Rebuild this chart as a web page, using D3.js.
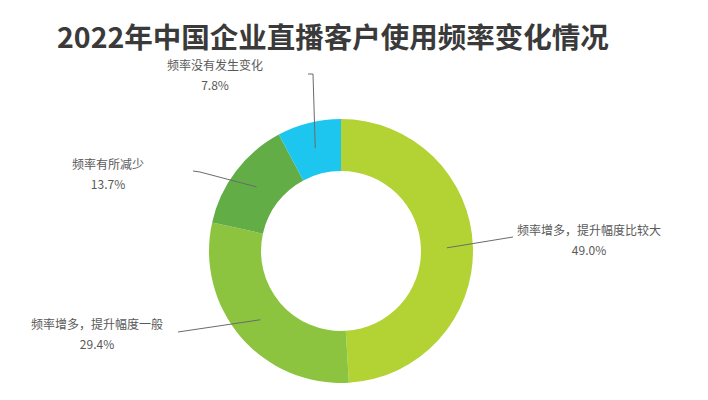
<!DOCTYPE html>
<html><head><meta charset="utf-8">
<script src="https://cdn.jsdelivr.net/npm/d3@7"></script>
<style>html,body{margin:0;padding:0;background:#fff;}svg{display:block;font-family:"Noto Sans CJK SC","Microsoft YaHei",sans-serif;}</style>
</head><body>
<svg id="c" width="708" height="400"></svg>
<script>
const title = "2022年中国企业直播客户使用频率变化情况";
const categories = ["频率增多，提升幅度比较大", "频率增多，提升幅度一般", "频率有所减少", "频率没有发生变化"];
const values = [49.0, 29.4, 13.7, 7.8];
const colors = ["#b3d335", "#8cc43f", "#63ad46", "#1dc6ee"];

// layout: leader end point (relative to centre) and label anchor
const labelLayout = [
  {end: [172, -14], lx: 589, ly: 229, elbow: null},
  {end: [-163, 81], lx: 97, ly: 323, elbow: null},
  {end: [-148, -80], lx: 108, ly: 163, elbow: [-141, -79]},
  {end: [-33, -177], lx: 215, ly: 64, elbow: [-28, -177]}
];

const svg = d3.select("#c");
const cx = 341, cy = 251, R = 132, r = 80;

svg.append("text").attr("x", 57).attr("y", 48)
  .attr("font-size", 28.5).attr("font-weight", 700).attr("fill", "#3a3a3a")
  .text(title);

const pie = d3.pie().sort(null).value(d => d)(values);
const arc = d3.arc().innerRadius(r).outerRadius(R);
const g = svg.append("g").attr("transform", `translate(${cx},${cy})`);

g.selectAll("path.slice").data(pie).join("path")
  .attr("class", "slice")
  .attr("d", arc)
  .attr("fill", (d, i) => colors[i]);

pie.forEach((d, i) => {
  const c = arc.centroid(d);
  const L = labelLayout[i];
  const pts = [c];
  if (L.elbow) pts.push(L.elbow);
  pts.push(L.end);
  g.append("path")
    .attr("d", d3.line()(pts))
    .attr("fill", "none").attr("stroke", "#6b6b6b").attr("stroke-width", 1);
  svg.append("text").attr("x", L.lx).attr("y", L.ly)
    .attr("text-anchor", "middle").attr("dominant-baseline", "central")
    .attr("font-size", 12).attr("fill", "#595959").text(categories[i]);
  svg.append("text").attr("x", L.lx).attr("y", L.ly + 20)
    .attr("text-anchor", "middle").attr("dominant-baseline", "central")
    .attr("font-size", 12).attr("fill", "#595959").text(values[i].toFixed(1) + "%");
});
</script>
</body></html>
